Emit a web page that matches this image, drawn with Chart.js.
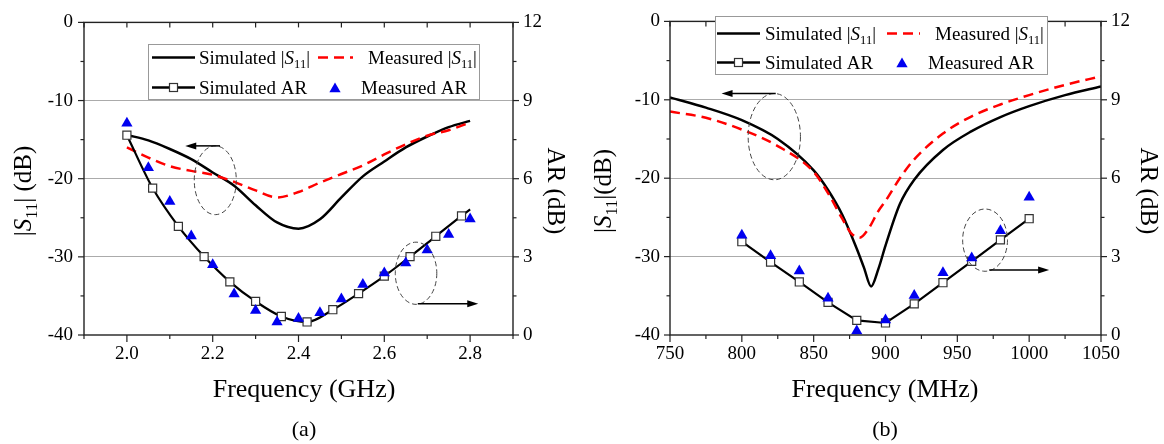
<!DOCTYPE html>
<html>
<head>
<meta charset="utf-8">
<title>|S11| and AR</title>
<script src="https://cdn.jsdelivr.net/npm/chart.js@4.4.1/dist/chart.umd.min.js"></script>
<style>
  body { margin: 0; background: #fff; }
  #wrap { position: relative; width: 1164px; height: 444px; }
  #wrap canvas { position: absolute; top: 0; }
</style>
</head>
<body>
<div id="wrap">
  <canvas id="chartA" width="582" height="444" style="left:0"></canvas>
  <canvas id="chartB" width="582" height="444" style="left:582px"></canvas>
</div>
<script>
const SERIF = 'Liberation Serif';

// (a) 2.0 - 2.8 GHz
const freqA = [2.00, 2.05, 2.10, 2.15, 2.20, 2.25, 2.30, 2.35, 2.40, 2.45, 2.50, 2.55, 2.60, 2.65, 2.70, 2.75, 2.80];
const s11SimA = [-14.4, -15.1, -16.2, -17.5, -19.2, -20.9, -23.4, -25.6, -26.4, -25.2, -22.4, -19.7, -17.8, -16.0, -14.6, -13.4, -12.6];
const s11MeasA = [-16.0, -17.3, -18.4, -19.0, -19.5, -20.4, -21.5, -22.4, -21.7, -20.5, -19.4, -18.3, -16.9, -15.6, -14.5, -13.8, -12.8];
const arMeasA = [8.13, 6.42, 5.12, 3.80, 2.70, 1.57, 0.94, 0.50, 0.63, 0.85, 1.38, 1.94, 2.38, 2.76, 3.26, 3.86, 4.45];
const freqArSimA = [2.00, 2.06, 2.12, 2.18, 2.24, 2.30, 2.36, 2.42, 2.48, 2.54, 2.60, 2.66, 2.72, 2.78, 2.80];
const arSimA = [7.67, 5.64, 4.17, 3.01, 2.04, 1.29, 0.71, 0.50, 0.97, 1.59, 2.26, 3.01, 3.79, 4.57, 4.82];

// (b) 750 - 1050 MHz
const freqS11SimB = [750, 775, 800, 825, 850, 860, 870, 880, 885, 890, 895, 900, 910, 920, 940, 960, 980, 1000, 1025, 1050];
const s11SimB = [-9.7, -11.0, -12.6, -15.0, -19.0, -21.5, -24.7, -29.0, -31.4, -33.8, -31.6, -28.6, -23.3, -20.2, -16.4, -14.0, -12.2, -10.8, -9.4, -8.3];
const freqS11MeasB = [750, 775, 800, 825, 850, 860, 870, 876, 882, 888, 895, 900, 910, 920, 940, 960, 980, 1000, 1025, 1050];
const s11MeasB = [-11.5, -12.3, -13.8, -15.9, -19.2, -21.9, -25.2, -27.0, -27.6, -26.5, -24.2, -22.9, -20.0, -17.6, -14.3, -12.1, -10.6, -9.4, -8.1, -7.0];
const freqArB = [800, 820, 840, 860, 880, 900, 920, 940, 960, 980, 1000];
const arSimB = [3.57, 2.79, 2.03, 1.25, 0.56, 0.46, 1.19, 2.00, 2.82, 3.64, 4.45];
const arMeasB = [3.82, 3.03, 2.45, 1.41, 0.15, 0.57, 1.51, 2.38, 2.95, 3.99, 5.27];

// tick labels
const freqLabelsA = [2.0, 2.2, 2.4, 2.6, 2.8];
const freqLabelsB = [750, 800, 850, 900, 950, 1000, 1050];
const s11Labels = [0, -10, -20, -30, -40];
const arLabels = [0, 3, 6, 9, 12];
const s11Grid = [-10, -20, -30];

const pts = (xs, ys) => xs.map((x, i) => ({ x: x, y: ys[i] }));
const isLabel = (v, list) => list.some(t => Math.abs(t - v) < 1e-6);

// text with italic S and subscript 11
function drawRich(ctx, parts, x, y, size, measureOnly) {
  let cx = x;
  parts.forEach(([t, k]) => {
    const fs = k === 's' ? size * 0.66 : size;
    ctx.font = (k === 'i' ? 'italic ' : '') + fs + 'px "' + SERIF + '"';
    if (!measureOnly) ctx.fillText(t, cx, k === 's' ? y + size * 0.24 : y);
    cx += ctx.measureText(t).width;
  });
  return cx - x;
}
const s11Text = tail => [['|', ''], ['S', 'i'], ['11', 's'], [tail, '']];

function line(ctx, x1, y1, x2, y2) {
  ctx.beginPath(); ctx.moveTo(x1, y1); ctx.lineTo(x2, y2); ctx.stroke();
}

function marker(ctx, kind, x, y) {
  ctx.save();
  if (kind === 'tri') {
    const r = 6.5;
    ctx.fillStyle = '#0000f0';
    ctx.beginPath();
    ctx.moveTo(x, y - r); ctx.lineTo(x + r * 0.866, y + r / 2); ctx.lineTo(x - r * 0.866, y + r / 2);
    ctx.closePath(); ctx.fill();
  } else {
    ctx.fillStyle = '#fff'; ctx.strokeStyle = '#333'; ctx.lineWidth = 1.2;
    ctx.fillRect(x - 4, y - 4, 8, 8); ctx.strokeRect(x - 4, y - 4, 8, 8);
  }
  ctx.restore();
}

function decor(p) {
  return {
    id: 'decor',
    afterDraw(chart) {
      const { ctx, chartArea: a, scales } = chart;
      const x = scales.x, yl = scales.y, yr = scales.y1;
      ctx.save();

      // frame + ticks
      ctx.strokeStyle = '#222'; ctx.lineWidth = 1.4;
      ctx.strokeRect(a.left, a.top, a.right - a.left, a.bottom - a.top);
      ctx.lineWidth = 1.2;
      x.ticks.forEach(t => {
        const px = x.getPixelForValue(t.value);
        line(ctx, px, a.bottom, px, a.bottom + (t.label !== '' ? 7 : 4));
        line(ctx, px, a.top, px, a.top + 5);
      });
      yl.ticks.forEach(t => {
        const py = yl.getPixelForValue(t.value);
        line(ctx, a.left, py, a.left - (t.label !== '' ? 6 : 3.5), py);
      });
      yr.ticks.forEach(t => {
        const py = yr.getPixelForValue(t.value);
        line(ctx, a.right, py, a.right + (t.label !== '' ? 6 : 3.5), py);
      });

      // dashed ellipses and arrows
      ctx.strokeStyle = '#444'; ctx.lineWidth = 1;
      ctx.setLineDash([5, 3]);
      p.notes.ellipses.forEach(e => {
        const cx = x.getPixelForValue(e.f), cy = yl.getPixelForValue(e.db);
        const rx = Math.abs(x.getPixelForValue(e.f + e.rf) - cx);
        const ry = Math.abs(yl.getPixelForValue(e.db + e.rdb) - cy);
        ctx.beginPath(); ctx.ellipse(cx, cy, rx, ry, 0, 0, Math.PI * 2); ctx.stroke();
      });
      ctx.setLineDash([]);
      ctx.strokeStyle = '#000'; ctx.fillStyle = '#000'; ctx.lineWidth = 1.5;
      p.notes.arrows.forEach(ar => {
        const x0 = x.getPixelForValue(ar.f0), x1 = x.getPixelForValue(ar.f1), py = yl.getPixelForValue(ar.db);
        const dir = Math.sign(x1 - x0);
        line(ctx, x0, py, x1 - dir * 8, py);
        ctx.beginPath();
        ctx.moveTo(x1, py); ctx.lineTo(x1 - dir * 11, py - 3.5); ctx.lineTo(x1 - dir * 11, py + 3.5);
        ctx.closePath(); ctx.fill();
      });

      // legend
      const L = p.legend;
      ctx.fillStyle = '#fff'; ctx.strokeStyle = '#999'; ctx.lineWidth = 1;
      ctx.fillRect(L.box[0], L.box[1], L.box[2] - L.box[0], L.box[3] - L.box[1]);
      ctx.strokeRect(L.box[0] + 0.5, L.box[1] + 0.5, L.box[2] - L.box[0], L.box[3] - L.box[1]);
      const fs = 19, r0 = L.rows[0], r1 = L.rows[1];
      ctx.strokeStyle = '#000'; ctx.lineWidth = 2.5;
      line(ctx, L.line[0], r0, L.line[1], r0);
      line(ctx, L.line[0], r1, L.line[1], r1);
      marker(ctx, 'sq', (L.line[0] + L.line[1]) / 2, r1);
      ctx.strokeStyle = '#f00'; ctx.setLineDash([10, 6]);
      line(ctx, L.dash[0], r0, L.dash[1], r0);
      ctx.setLineDash([]);
      marker(ctx, 'tri', L.tri, r1 + 1.5);
      ctx.fillStyle = '#000'; ctx.textBaseline = 'alphabetic'; ctx.textAlign = 'left';
      drawRich(ctx, [['Simulated ', '']].concat(s11Text('|')), L.text1, r0 + 6, fs);
      drawRich(ctx, [['Measured ', '']].concat(s11Text('|')), L.text2, r0 + 6, fs);
      drawRich(ctx, [['Simulated AR', '']], L.text1, r1 + 6, fs);
      drawRich(ctx, [['Measured AR', '']], L.text3, r1 + 6, fs);

      // axis titles
      const ts = 25;
      ctx.save();
      ctx.translate(p.titleLeftX, p.titleY); ctx.rotate(-Math.PI / 2);
      const wl = drawRich(ctx, s11Text(p.s11Tail), 0, 0, ts, true);
      drawRich(ctx, s11Text(p.s11Tail), -wl / 2, ts * 0.34, ts);
      ctx.restore();
      ctx.save();
      ctx.translate(p.titleRightX, p.titleY); ctx.rotate(Math.PI / 2);
      ctx.font = ts + 'px "' + SERIF + '"'; ctx.textAlign = 'center';
      ctx.fillText('AR (dB)', 0, ts * 0.34);
      ctx.restore();
      ctx.textAlign = 'center';
      ctx.font = '26px "' + SERIF + '"';
      ctx.fillText(p.xTitle, p.xTitleX, 397);
      ctx.font = '22px "' + SERIF + '"';
      ctx.fillText(p.caption, p.xTitleX, 436);
      ctx.restore();
    }
  };
}

function makePanel(p) {
  const tickFont = { family: SERIF, size: 19 };
  return new Chart(document.getElementById(p.id), {
    type: 'line',
    data: {
      datasets: [
        { label: 'Measured AR', data: pts(p.arMeasF, p.arMeas), yAxisID: 'y1', showLine: false,
          pointStyle: 'triangle', pointRadius: 6.5, backgroundColor: '#0000f0', borderColor: '#0000f0',
          borderWidth: 0, clip: false },
        { label: 'Simulated AR', data: pts(p.arSimF, p.arSim), yAxisID: 'y1', borderColor: '#000',
          borderWidth: 2.2, cubicInterpolationMode: p.arSmooth ? 'monotone' : 'default',
          pointStyle: 'rect', pointRadius: c => (c.dataIndex < p.arMarks ? 5.7 : 0),
          pointBackgroundColor: '#fff', pointBorderColor: '#333', pointBorderWidth: 1.2, clip: false },
        { label: 'Measured |S11|', data: pts(p.s11MeasF, p.s11Meas), yAxisID: 'y', borderColor: '#f00',
          borderWidth: 2.5, borderDash: [10, 6], pointRadius: 0, cubicInterpolationMode: 'monotone' },
        { label: 'Simulated |S11|', data: pts(p.s11SimF, p.s11Sim), yAxisID: 'y', borderColor: '#000',
          borderWidth: 2.5, pointRadius: 0, cubicInterpolationMode: 'monotone' }
      ]
    },
    options: {
      responsive: false,
      animation: false,
      devicePixelRatio: 1,
      layout: { padding: { top: 16, left: 0, right: 0, bottom: 0 } },
      plugins: { legend: { display: false }, tooltip: { enabled: false } },
      scales: {
        x: {
          type: 'linear', min: p.xMin, max: p.xMax,
          ticks: { stepSize: p.xStep, autoSkip: false, maxRotation: 0, padding: 8, font: tickFont, color: '#000',
                   callback: v => (isLabel(v, p.xLabels) ? p.fmt(v) : '') },
          grid: { display: false, drawTicks: false },
          border: { display: false },
          afterFit: s => { s.height = 109; }
        },
        y: {
          position: 'left', min: -40, max: 0,
          ticks: { stepSize: 5, autoSkip: false, padding: p.padL, font: tickFont, color: '#000',
                   callback: v => (isLabel(v, s11Labels) ? String(v) : '') },
          grid: { drawTicks: false, lineWidth: 1,
                  color: c => (s11Grid.includes(c.tick.value) ? '#ababab' : 'rgba(0,0,0,0)') },
          border: { display: false },
          afterFit: s => { s.width = p.leftW; }
        },
        y1: {
          position: 'right', min: 0, max: 12,
          ticks: { stepSize: 1.5, autoSkip: false, padding: 10, font: tickFont, color: '#000',
                   callback: v => (isLabel(v, arLabels) ? String(v) : '') },
          grid: { drawOnChartArea: false, drawTicks: false },
          border: { display: false },
          afterFit: s => { s.width = p.rightW; }
        }
      }
    },
    plugins: [decor(p)]
  });
}

makePanel({
  id: 'chartA', xMin: 1.9, xMax: 2.9, xStep: 0.1, xLabels: freqLabelsA, fmt: v => v.toFixed(1),
  leftW: 84, rightW: 69, padL: 11,
  s11SimF: freqA, s11Sim: s11SimA, s11MeasF: freqA, s11Meas: s11MeasA,
  arSimF: freqArSimA, arSim: arSimA, arMeasF: freqA, arMeas: arMeasA, arMarks: 14, arSmooth: true,
  xTitle: 'Frequency (GHz)', caption: '(a)', xTitleX: 304,
  titleLeftX: 22, titleRightX: 556, titleY: 191, s11Tail: '| (dB)',
  legend: { box: [148, 44, 479, 99], rows: [57.5, 87.5], line: [152, 195], dash: [318, 353],
            tri: 335, text1: 199, text2: 368, text3: 361 },
  notes: {
    ellipses: [{ f: 2.206, db: -20.2, rf: 0.049, rdb: 4.4 }, { f: 2.674, db: -32.1, rf: 0.0484, rdb: 3.98 }],
    arrows: [{ f0: 2.217, f1: 2.136, db: -15.8 }, { f0: 2.678, f1: 2.819, db: -36.0 }]
  }
});

makePanel({
  id: 'chartB', xMin: 750, xMax: 1050, xStep: 25, xLabels: freqLabelsB, fmt: v => String(v),
  leftW: 88, rightW: 63, padL: 10,
  s11SimF: freqS11SimB, s11Sim: s11SimB, s11MeasF: freqS11MeasB, s11Meas: s11MeasB,
  arSimF: freqArB, arSim: arSimB, arMeasF: freqArB, arMeas: arMeasB, arMarks: 11, arSmooth: false,
  xTitle: 'Frequency (MHz)', caption: '(b)', xTitleX: 303,
  titleLeftX: 20, titleRightX: 567, titleY: 191, s11Tail: '|(dB)',
  legend: { box: [133, 16, 465, 74], rows: [33.5, 62.5], line: [135, 178], dash: [305, 338],
            tri: 320, text1: 183, text2: 353, text3: 346 },
  notes: {
    ellipses: [{ f: 822.6, db: -14.7, rf: 18.2, rdb: 5.5 }, { f: 969.3, db: -27.9, rf: 15.6, rdb: 3.97 }],
    arrows: [{ f0: 823.6, f1: 785.9, db: -9.2 }, { f0: 972.2, f1: 1013.9, db: -31.7 }]
  }
});
</script>
</body>
</html>
